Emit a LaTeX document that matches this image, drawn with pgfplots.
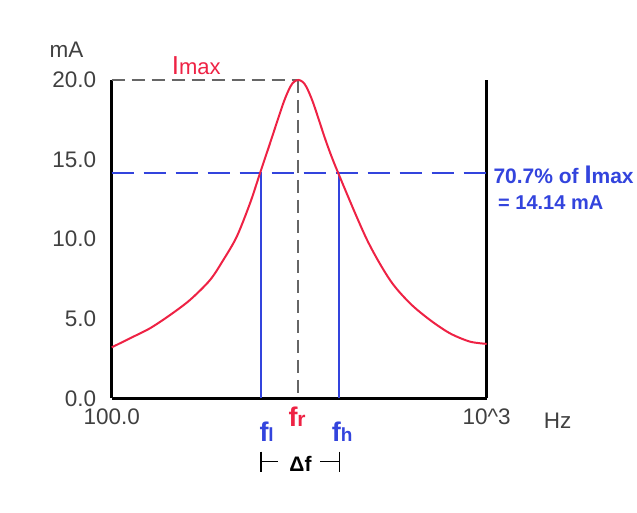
\documentclass[border=0pt]{standalone}
\usepackage{fontspec}
\setmainfont{Liberation Sans}
\usepackage{pgfplots}
\pgfplotsset{compat=1.18}
\definecolor{cred}{HTML}{EE2244}
\definecolor{cblue}{HTML}{3344DD}
\definecolor{cgray}{HTML}{666666}
\definecolor{ctext}{HTML}{404040}
\begin{document}
\begin{tikzpicture}[x=1pt,y=1pt]
\useasboundingbox (0,0) rectangle (637,513);
\begin{axis}[
  at={(111.7pt,114.7pt)}, anchor=south west,
  width=375pt, height=318.3pt, scale only axis,
  xmin=0, xmax=375, ymin=0, ymax=20,
  axis x line=bottom, axis y line=box,
  axis line style={-, line width=2.6pt, black},
  xtick={0,375}, xticklabels={100.0,{10\textasciicircum 3}},
  ytick={0,5,10,15,20}, yticklabels={0.0,5.0,10.0,15.0,20.0},
  major tick length=0pt,
  tick label style={font=\fontsize{22.5}{26}\selectfont, text=ctext},
  yticklabel style={xshift=-12pt},
  xticklabel style={yshift=-7pt},
  clip=false,
  /pgf/number format/assume math mode=true,
]
\addplot[cgray, line width=2pt, dash pattern=on 13pt off 7pt] coordinates {(0,20) (186.6,20)};
\addplot[cgray, line width=2pt, dash pattern=on 13pt off 7pt] coordinates {(186.6,20) (186.6,0)};
\addplot[cblue, line width=1.8pt, dash pattern=on 22pt off 10pt] coordinates {(0,14.14) (375,14.14)};
\addplot[cblue, line width=2pt] coordinates {(149,0) (149,14.14)};
\addplot[cblue, line width=2pt] coordinates {(227.6,0) (227.6,14.14)};
\addplot[cred, line width=2pt, smooth, tension=0.5] coordinates {
(0,3.2) (18.3,3.77) (38.3,4.40) (58.3,5.23) (78.3,6.18) (98.3,7.43) (111.6,8.69) (125,10.15)
(138.3,12.25) (148.3,14.14) (158.3,16.02) (171.6,18.54) (178.6,19.58) (182.6,19.9)
(186.6,20) (190.6,19.9) (194.6,19.58) (201.6,18.54) (215,16.02) (226.6,14.14)
(255,10.0) (278.3,7.43) (298.3,5.97) (318.3,4.92) (338.3,4.08) (358.3,3.56) (375,3.42)};
\end{axis}
\node[text=ctext, font=\fontsize{22.5}{26}\selectfont] at (66.5,463) {mA};
\node[text=ctext, font=\fontsize{22.5}{26}\selectfont] at (557.5,92) {Hz};
\node[anchor=base west, inner sep=0, text=cred] at (171.7,438) {{\fontsize{26}{30}\selectfont I}{\fontsize{22}{26}\selectfont max}};
\node[anchor=base west, inner sep=0, text=cblue, font=\bfseries] at (259.3,71.3) {{\fontsize{27}{30}\selectfont f}{\fontsize{19}{22}\selectfont l}};
\node[anchor=base west, inner sep=0, text=cred, font=\bfseries] at (288.3,86.3) {{\fontsize{27}{30}\selectfont f}{\fontsize{21}{24}\selectfont r}};
\node[anchor=base west, inner sep=0, text=cblue, font=\bfseries] at (331.7,71.3) {{\fontsize{27}{30}\selectfont f}{\fontsize{19}{22}\selectfont h}};
\node[font=\bfseries\fontsize{21}{24}\selectfont] at (300.5,49.5) {Δf};
\draw[line width=1.2pt] (261,61.3)--(261,41.3) (261,51.3)--(277.7,51.3) (320,51.3)--(339.3,51.3) (339.3,61.3)--(339.3,41.3);
\node[anchor=base west, inner sep=0, text=cblue, font=\bfseries] at (493.3,329.7) {{\fontsize{21}{24}\selectfont 70.7\% of }{\fontsize{25.5}{28}\selectfont I}{\fontsize{21}{24}\selectfont max}};
\node[anchor=base west, inner sep=0, text=cblue, font=\bfseries\fontsize{20}{24}\selectfont] at (498,303) {= 14.14 mA};
\end{tikzpicture}
\end{document}
